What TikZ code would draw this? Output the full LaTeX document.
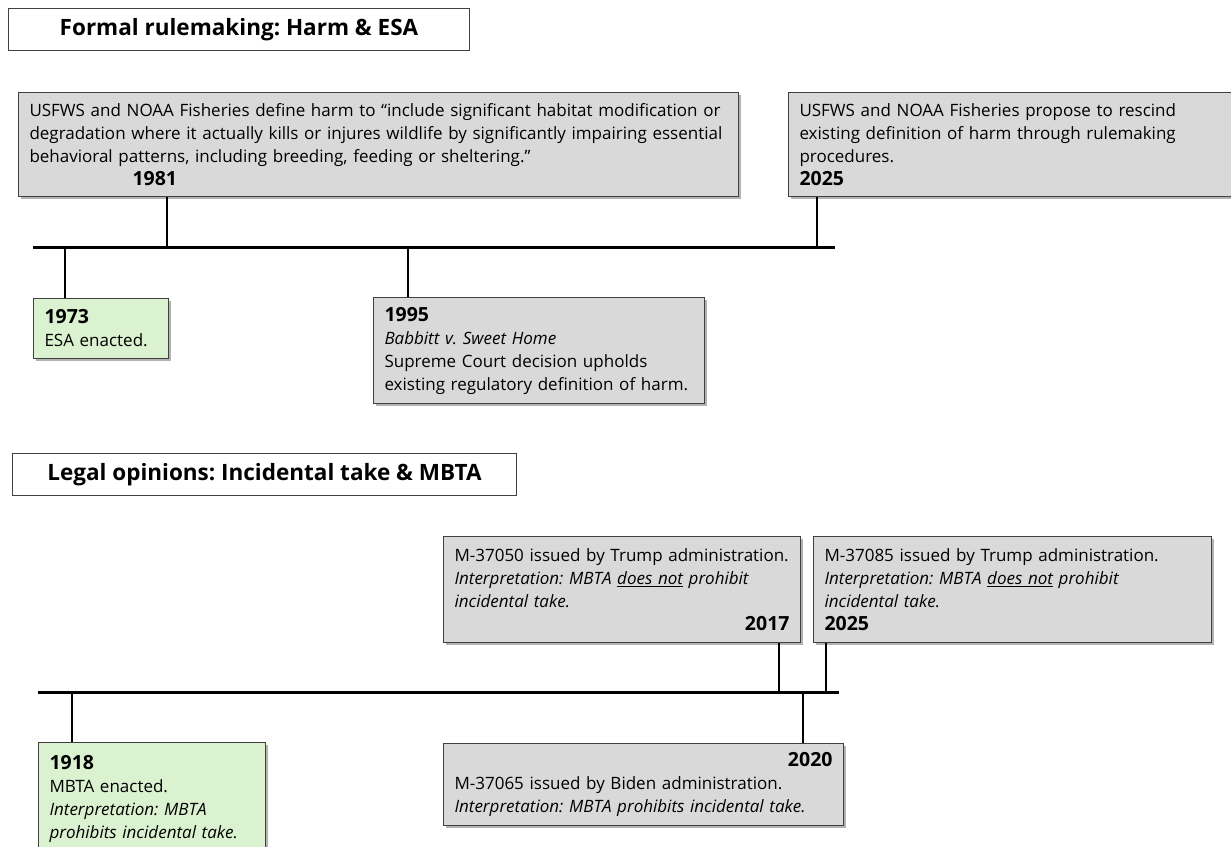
\documentclass[tikz,border=0pt]{standalone}
\usepackage{fontspec}
\setmainfont{Open Sans}
\usetikzlibrary{shadows}
\definecolor{boxgray}{HTML}{D9D9D9}
\definecolor{boxgreen}{HTML}{DAF2D0}
\definecolor{edgegray}{HTML}{404040}
\newcommand{\yr}[1]{{\fontsize{19.5}{23}\selectfont\bfseries #1}}
\frenchspacing
\begin{document}
\begin{tikzpicture}
[x=1pt,y=-1pt,
  evbox/.style={shape=rectangle,anchor=north west,draw=edgegray,line width=1pt,
    fill=boxgray,inner xsep=11pt,inner ysep=0pt,align=left,
    font=\fontsize{17}{23}\selectfont,
    drop shadow={shadow xshift=2pt,shadow yshift=-2pt,opacity=0.6}},
  greenbox/.style={evbox,fill=boxgreen},
  titlebox/.style={shape=rectangle,anchor=north west,draw=edgegray,line width=1pt,
    fill=white,inner sep=0pt,font=\fontsize{22.5}{25}\selectfont\bfseries},
  linedecorate/.style={-,line width=3pt},
  tickdecorate/.style={-,line width=1.5pt}]
\useasboundingbox (0,0) rectangle (1231,846);
\clip (0,0) rectangle (1231,846);
%% headings
\node (title1) at (8,8) [titlebox,minimum width=461,minimum height=42]
  {Formal rulemaking: Harm \& ESA};
\node (title2) at (12,453) [titlebox,minimum width=504,minimum height=42]
  {Legal opinions: Incidental take \& MBTA};
%% events, harm & ESA
\node (ev1981) at (18,92) [evbox,text width=698,minimum height=104]
  {USFWS and NOAA Fisheries define harm to “include significant habitat modification or\\
   degradation where it actually kills or injures wildlife by significantly impairing essential\\
   behavioral patterns, including breeding, feeding or sheltering.”\\
   \hspace*{103pt}\yr{1981}};
\node (ev2025a) at (788,92) [evbox,text width=421,minimum height=104]
  {USFWS and NOAA Fisheries propose to rescind\\
   existing definition of harm through rulemaking\\
   procedures.\\
   \yr{2025}};
\node (ev1973) at (33,298) [greenbox,text width=113,minimum height=60]
  {\yr{1973}\\ ESA enacted.};
\node (ev1995) at (373,297) [evbox,text width=309,minimum height=106]
  {\yr{1995}\\
   \textit{Babbitt v. Sweet Home}\\
   Supreme Court decision upholds\\
   existing regulatory definition of harm.};
%% events, incidental take & MBTA
\node (ev2017) at (443,536) [evbox,text width=335,minimum height=106]
  {M-37050 issued by Trump administration.\\
   \textit{Interpretation: MBTA \underline{does not} prohibit}\\
   \textit{incidental take.}\\
   \hspace*{\fill}\yr{2017}};
\node (ev2025b) at (813,536) [evbox,text width=376,minimum height=106]
  {M-37085 issued by Trump administration.\\
   \textit{Interpretation: MBTA \underline{does not} prohibit}\\
   \textit{incidental take.}\\
   \yr{2025}};
\node (ev1918) at (38,742) [greenbox,text width=205,minimum height=112]
  {\yr{1918}\\
   MBTA enacted.\\
   \textit{Interpretation: MBTA}\\
   \textit{prohibits incidental take.}};
\node (ev2020) at (443,743) [evbox,text width=378,minimum height=82]
  {\hspace*{\fill}\yr{2020}\\
   M-37065 issued by Biden administration.\\
   \textit{Interpretation: MBTA prohibits incidental take.}};
%% ticks
\foreach \tickname/\x/\y/\target in {t1981/167/247/ev1981.south,
  t2025a/817/247/ev2025a.south, t1973/65/247/ev1973.north,
  t1995/408/247/ev1995.north, t2017/779/692/ev2017.south,
  t2025b/826/692/ev2025b.south, t1918/72/692/ev1918.north,
  t2020/803/692/ev2020.north} {
  \coordinate (\tickname) at (\x,\y);
  \draw[tickdecorate] (\tickname) -- (\tickname |- \target);
}
%% timelines
\coordinate (line1s) at (33,247);
\coordinate (line1e) at (835,247);
\coordinate (line2s) at (38,692);
\coordinate (line2e) at (839,692);
\draw[linedecorate] (line1s) -- (line1e);
\draw[linedecorate] (line2s) -- (line2e);
\end{tikzpicture}
\end{document}
